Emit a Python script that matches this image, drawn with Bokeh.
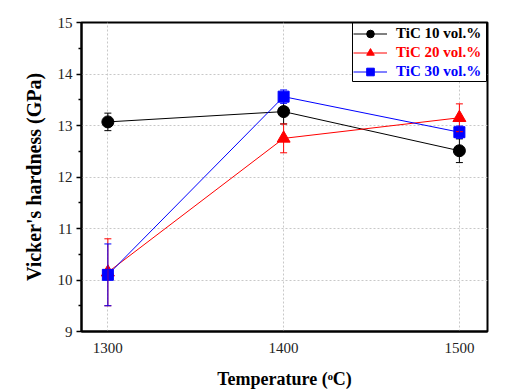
from bokeh.plotting import figure
from bokeh.models import (ColumnDataSource, Whisker, TeeHead, Legend, LegendItem,
                          BoxAnnotation, FixedTicker, Range1d)
from bokeh.embed import file_html
from bokeh.resources import INLINE

# ---- data ----
temps = [1300, 1400, 1500]
tic10 = [13.07, 13.27, 12.51]
err10 = [0.17, 0.24, 0.23]
tic20 = [10.15, 12.75, 13.15]
err20 = [0.65, 0.28, 0.27]
tic30 = [10.10, 13.56, 12.87]
err30 = [0.60, 0.13, 0.12]
labels = ["TiC 10 vol.%", "TiC 20 vol.%", "TiC 30 vol.%"]
colors = ["#000000", "#ff0000", "#0000ff"]
markers = ["circle", "triangle", "square"]
msizes = [12, 13, 11]
x_ticks = [1300, 1400, 1500]
y_ticks = [9, 10, 11, 12, 13, 14, 15]

FONT = "Liberation Serif"

p = figure(width=508, height=391, output_backend="svg", toolbar_location=None,
           x_range=Range1d(1285, 1516), y_range=Range1d(9, 15),
           min_border_left=81, min_border_top=22, min_border_right=21, min_border_bottom=60)
p.background_fill_color = "white"
p.border_fill_color = "white"
p.outline_line_color = "#000000"
p.outline_line_width = 2

# axes
p.xaxis.ticker = FixedTicker(ticks=x_ticks)
p.yaxis.ticker = FixedTicker(ticks=y_ticks, minor_ticks=[9.5, 10.5, 11.5, 12.5, 13.5, 14.5])
for ax in (p.xaxis[0], p.yaxis[0]):
    ax.axis_line_width = 2
    ax.axis_line_color = "#000000"
    ax.major_label_text_font = FONT
    ax.major_label_text_font_size = "15px"
    ax.major_label_text_color = "#222222"
    ax.axis_label_text_font = FONT
    ax.axis_label_text_font_style = "bold"
    ax.axis_label_text_color = "#000000"
    ax.major_tick_line_color = "#000000"
    ax.minor_tick_line_color = "#000000"
    ax.major_tick_line_width = 1.5
    ax.minor_tick_line_width = 1.5
p.xaxis.axis_label_text_font_size = "18px"
p.yaxis.axis_label_text_font_size = "20px"
p.xaxis.major_tick_out = 0
p.xaxis.major_tick_in = 0
p.xaxis.minor_tick_out = 0
p.xaxis.minor_tick_in = 0
p.xaxis.major_label_standoff = 11
p.xaxis.axis_label_standoff = 13
p.yaxis.major_tick_out = 5
p.yaxis.major_tick_in = 0
p.yaxis.minor_tick_out = 3
p.yaxis.minor_tick_in = 0
p.yaxis.major_label_standoff = 4
p.yaxis.axis_label_standoff = 10
p.xaxis.axis_label = "Temperature (\u1d52C)"
p.yaxis.axis_label = "Vicker's hardness (GPa)"

p.xgrid.grid_line_color = "#c8c8c8"
p.xgrid.grid_line_dash = "2 2"
p.ygrid.grid_line_color = "#c8c8c8"
p.ygrid.grid_line_dash = "2 2"

series = [tic10, tic20, tic30]
errs = [err10, err20, err30]
line_rs, mark_rs, srcs = [], [], []
for vals, err, col in zip(series, errs, colors):
    src = ColumnDataSource(dict(x=temps, y=vals,
                                upper=[v + e for v, e in zip(vals, err)],
                                lower=[v - e for v, e in zip(vals, err)]))
    srcs.append(src)
    line_rs.append(p.line("x", "y", source=src, line_color=col, line_width=1))

for i, (src, col) in enumerate(zip(srcs, colors)):
    w = Whisker(source=src, base="x", upper="upper", lower="lower",
                line_color=col, line_width=1,
                upper_head=TeeHead(size=7, line_color=col, line_width=1),
                lower_head=TeeHead(size=7, line_color=col, line_width=1),
                level="underlay" if i == 0 else "annotation")
    p.add_layout(w)

for src, col, mk, ms in zip(srcs, colors, markers, msizes):
    mark_rs.append(p.scatter("x", "y", source=src, marker=mk, size=ms,
                             fill_color=col, line_color=col))

# legend box
box = BoxAnnotation(left=271, right=405, top=308.5, bottom=250,
                    left_units="screen", right_units="screen",
                    top_units="screen", bottom_units="screen",
                    fill_color="white", fill_alpha=1.0,
                    line_color="#000000", line_width=1, line_alpha=1.0)
p.add_layout(box)

bottoms = [288.5, 269.5, 250.5]
for lab, col, lr, mr, b in zip(labels, colors, line_rs, mark_rs, bottoms):
    lg = Legend(items=[LegendItem(label=lab, renderers=[lr, mr])],
                location=(272, b), orientation="vertical",
                glyph_width=34, glyph_height=19, label_height=19,
                label_standoff=9, padding=0, spacing=0, margin=0,
                background_fill_alpha=0, border_line_alpha=0,
                label_text_font=FONT, label_text_font_style="bold",
                label_text_font_size="15px", label_text_color=col)
    p.add_layout(lg)

open("out.html", "w").write(file_html(p, INLINE))
